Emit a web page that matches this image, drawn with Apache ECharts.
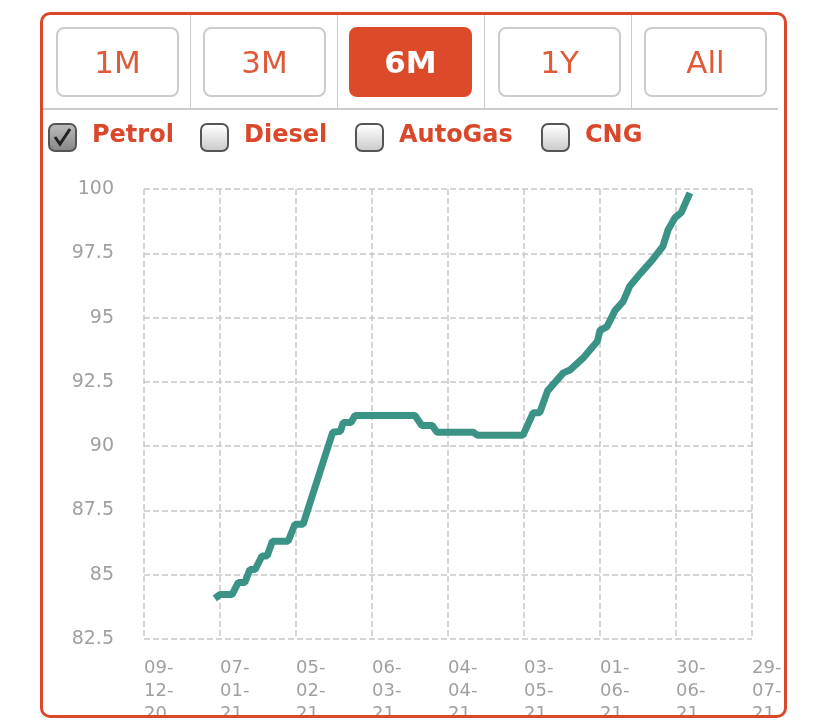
<!DOCTYPE html>
<html><head><meta charset="utf-8">
<script src="https://cdn.jsdelivr.net/npm/echarts@6/dist/echarts.min.js"></script>
<style>
body{margin:0;width:828px;height:726px;background:#fff;font-family:"DejaVu Sans",Verdana,sans-serif;position:relative;overflow:hidden}
#box{position:absolute;left:40px;top:12px;width:741px;height:700px;border:3px solid #d9482b;border-radius:10px;overflow:hidden}
#chart{position:absolute;left:-43px;top:-15px;width:828px;height:726px}
.btn{position:absolute;top:12px;width:119px;height:66px;border:2px solid #ccc;border-radius:8px;color:#e05a3a;font-size:31px;text-align:center;line-height:66px;box-sizing:content-box}
.btn.on{background:#dc4a2a;border-color:#dc4a2a;color:#fff;font-weight:bold}
.sep{position:absolute;top:0;width:1px;height:94px;background:#ccc}
.hl{position:absolute;left:0;top:93px;width:735px;height:2px;background:#ccc}
.cb{position:absolute;top:108px;width:25px;height:25px;border:2px solid #555;border-radius:7px;background:linear-gradient(#fff,#ccc)}
.lb{position:absolute;top:105px;color:#d9482b;font-weight:bold;font-size:24px}
</style></head><body>
<div id="box">
<div id="chart"></div>
</div>
<script>
const buttonLabels=["1M","3M","6M","1Y","All"];
const fuelLabels=["Petrol","Diesel","AutoGas","CNG"];
const startDate=[2020,12,9];
const tickStep=29;
const yTicks=[82.5,85,87.5,90,92.5,95,97.5,100];
const dayOffsets=[27,29,33.6,36,38.5,40.4,42.4,45,47,49,55,57.6,60.7,72,75,76,79,80.5,103.4,106,110,111.8,125.6,127.4,144.6,148.5,151,154,160,162.5,167.5,173,174,176.7,179.7,182.8,185.4,189.3,194.2,198,200,202.6,205,208.3];
const prices=[84.08,84.23,84.23,84.7,84.7,85.2,85.2,85.73,85.73,86.3,86.3,86.96,86.96,90.54,90.58,90.92,90.92,91.19,91.19,90.8,90.8,90.54,90.54,90.42,90.42,91.3,91.3,92.15,92.85,92.96,93.42,94.08,94.5,94.65,95.27,95.62,96.23,96.7,97.27,97.77,98.42,98.88,99.08,99.85];

const box=document.getElementById('box');
const bx=[13,160,306,455,601];
buttonLabels.forEach((t,i)=>{const d=document.createElement('div');d.className='btn'+(t==='6M'?' on':'');d.style.left=bx[i]+'px';d.textContent=t;box.appendChild(d);});
[147,294,441,588].forEach(x=>{const s=document.createElement('div');s.className='sep';s.style.left=x+'px';box.appendChild(s);});
const hl=document.createElement('div');hl.className='hl';box.appendChild(hl);
const cx=[5,157,312,498];
fuelLabels.forEach((t,i)=>{const c=document.createElement('div');c.className='cb';c.style.left=cx[i]+'px';if(i===0){c.innerHTML='<svg width="25" height="25"><path d="M5 12 L10 19 L20 4" stroke="#222" stroke-width="3" fill="none"/></svg>';c.style.background='linear-gradient(#bbb,#888)';}box.appendChild(c);
const l=document.createElement('div');l.className='lb';l.style.left=(cx[i]+44)+'px';l.textContent=t;box.appendChild(l);});

function fmt(v){const d=new Date(Date.UTC(startDate[0],startDate[1]-1,startDate[2]+Math.round(v)));const p=n=>String(n).padStart(2,'0');return p(d.getUTCDate())+'-\n'+p(d.getUTCMonth()+1)+'-\n'+String(d.getUTCFullYear()).slice(2);}
const chart=echarts.init(document.getElementById('chart'));
chart.setOption({
animation:false,
grid:{left:144,right:76,top:189,bottom:84},
xAxis:{type:'value',min:0,max:tickStep*8,interval:tickStep,
 axisLine:{show:false},axisTick:{show:false},
 splitLine:{lineStyle:{type:'dashed',color:'#c8c8c8',width:1.5}},
 axisLabel:{formatter:fmt,color:'#a0a0a0',fontSize:18,lineHeight:23,align:'left',margin:18,fontFamily:'DejaVu Sans'}},
yAxis:{type:'value',min:yTicks[0],max:yTicks[yTicks.length-1],interval:2.5,
 axisLine:{show:false},axisTick:{show:false},
 splitLine:{lineStyle:{type:'dashed',color:'#c8c8c8',width:1.5}},
 axisLabel:{color:'#a0a0a0',fontSize:19,margin:30,fontFamily:'DejaVu Sans'}},
series:[{type:'line',showSymbol:false,data:dayOffsets.map((d,i)=>[d,prices[i]]),lineStyle:{color:'#3a9384',width:7},itemStyle:{color:'#3a9384'}}]
});
</script></body></html>
